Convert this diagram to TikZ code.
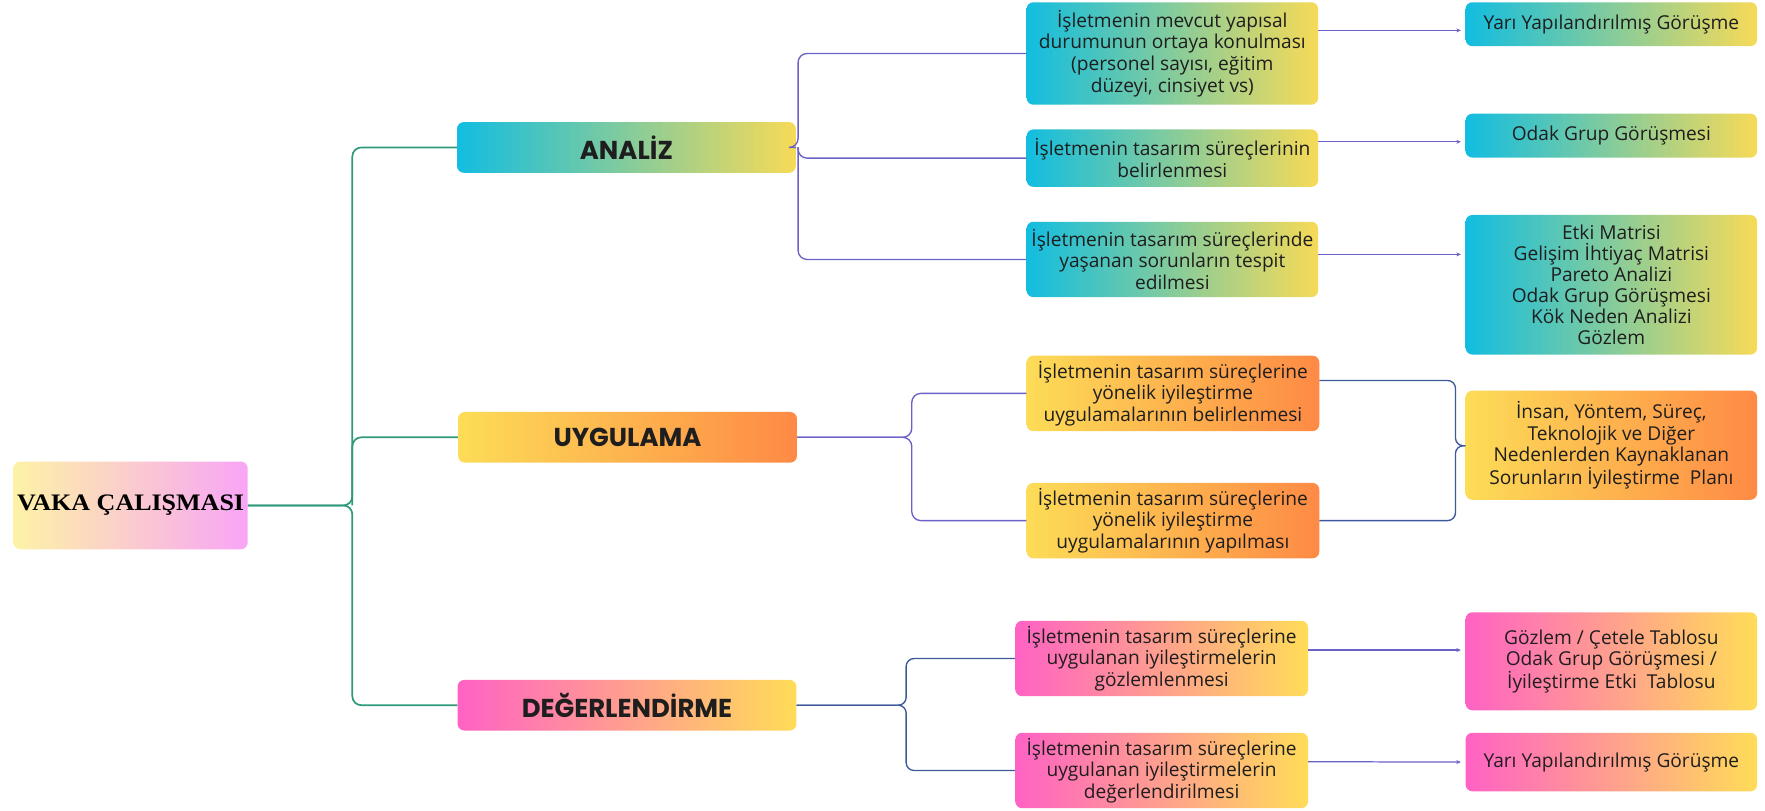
\documentclass[tikz,border=0pt]{standalone}
\usepackage{fontspec}
\setmainfont{Open Sans}
\newfontfamily\titlefont{Poppins}
\newfontfamily\serifb[FakeStretch=1.1]{Liberation Serif}
\usetikzlibrary{arrows.meta,calc}
\definecolor{cyanL}{HTML}{12BDE0}
\definecolor{yelR}{HTML}{F7DA57}
\definecolor{yelL}{HTML}{FDDC57}
\definecolor{orR}{HTML}{FE8A45}
\definecolor{pinkL}{HTML}{FF62C4}
\definecolor{yelP}{HTML}{FFDC58}
\definecolor{vakL}{HTML}{FDF2A6}
\definecolor{vakR}{HTML}{F8A5F6}
\definecolor{trunkc}{HTML}{2E9A7B}
\definecolor{purc}{HTML}{6A62C8}
\definecolor{bluc}{HTML}{3E5A9C}
\definecolor{txtc}{HTML}{1E1E1E}
\tikzset{
  box/.style={rounded corners=6pt, align=center, inner sep=0pt, text=txtc},
  fa/.style={font=\fontsize{17}{19.4}\selectfont},
  fb/.style={font=\fontsize{17}{19}\selectfont},
  ttl/.style={box, font=\titlefont\bfseries\fontsize{23}{26}\selectfont, minimum width=301pt, minimum height=45pt},
  cy/.style={box, left color=cyanL, right color=yelR},
  og/.style={box, left color=yelL, right color=orR},
  pk/.style={box, left color=pinkL, right color=yelP},
  trunk/.style={draw=trunkc, line width=1.5pt, rounded corners=8pt},
  purl/.style={draw=purc, line width=1.2pt, rounded corners=8pt},
  blul/.style={draw=bluc, line width=1.2pt, rounded corners=7pt},
  arr/.style={draw=purc, line width=1.1pt, -{Stealth[length=4pt,width=3.5pt]}, shorten >=4pt}
}
\begin{document}
\begin{tikzpicture}[x=1pt,y=-1pt]
\useasboundingbox[fill=white] (0,0) rectangle (1568,720);

% root
\node[box, left color=vakL, right color=vakR, minimum width=208pt, minimum height=78pt,
      font=\serifb\bfseries\fontsize{21}{24}\selectfont, text=black] (V) at (116,449) {VAKA ÇALIŞMASI};

% level 1
\node[ttl, cy] (AN) at (556.5,131) {ANALİZ};
\node[ttl, og] (UY) at (557.5,388.5) {UYGULAMA};
\node[ttl, pk] (DE) at (557,626.5) {DEĞERLENDİRME};

% analiz children
\node[cy, fa, minimum width=259pt, minimum height=91pt] (A1) at (1041.5,47.5)
  {İşletmenin mevcut yapısal\\durumunun ortaya konulması\\(personel sayısı, eğitim\\düzeyi, cinsiyet vs)};
\node[cy, fa, minimum width=259pt, minimum height=51pt] (A2) at (1041.5,140.5)
  {İşletmenin tasarım süreçlerinin\\belirlenmesi};
\node[cy, fa, minimum width=259pt, minimum height=67pt] (A3) at (1041.5,230.5)
  {İşletmenin tasarım süreçlerinde\\yaşanan sorunların tespit\\edilmesi};
\node[cy, fa, minimum width=259pt, minimum height=39pt] (R1) at (1431.5,21.5)
  {Yarı Yapılandırılmış Görüşme};
\node[cy, fa, minimum width=259pt, minimum height=39pt] (R2) at (1431.5,120.5)
  {Odak Grup Görüşmesi};
\node[cy, fa, font=\fontsize{17}{18.8}\selectfont, minimum width=259pt, minimum height=124pt] (R3) at (1431.5,253)
  {Etki Matrisi\\Gelişim İhtiyaç Matrisi\\Pareto Analizi\\Odak Grup Görüşmesi\\Kök Neden Analizi\\Gözlem};

% uygulama children
\node[og, fb, minimum width=260pt, minimum height=67pt] (U1) at (1042,349.5)
  {İşletmenin tasarım süreçlerine\\yönelik iyileştirme\\uygulamalarının belirlenmesi};
\node[og, fb, minimum width=260pt, minimum height=67pt] (U2) at (1042,462.5)
  {İşletmenin tasarım süreçlerine\\yönelik iyileştirme\\uygulamalarının yapılması};
\node[og, fb, minimum width=259pt, minimum height=97pt] (IP) at (1431.5,395.5)
  {İnsan, Yöntem, Süreç,\\Teknolojik ve Diğer\\Nedenlerden Kaynaklanan\\Sorunların İyileştirme~~Planı};

% degerlendirme children
\node[pk, fb, minimum width=260pt, minimum height=67pt] (D1) at (1032,585)
  {İşletmenin tasarım süreçlerine\\uygulanan iyileştirmelerin\\gözlemlenmesi};
\node[pk, fb, minimum width=260pt, minimum height=67pt] (D2) at (1032,684.5)
  {İşletmenin tasarım süreçlerine\\uygulanan iyileştirmelerin\\değerlendirilmesi};
\node[pk, fb, minimum width=259pt, minimum height=87pt] (E1) at (1431.5,587.5)
  {Gözlem / Çetele Tablosu\\Odak Grup Görüşmesi /\\İyileştirme Etki~~Tablosu};
\node[pk, fb, minimum width=259pt, minimum height=52pt] (E2) at (1431.5,677)
  {Yarı Yapılandırılmış Görüşme};

% trunk
\coordinate (t) at (313,449);
\draw[trunk] (V.east) -- (t) |- (AN.west);
\draw[trunk] (V.east) -- (t) |- (DE.west);
\draw[trunk] (t) |- (UY.west);

% analiz bracket
\coordinate (ab) at (709,131);
\draw[purl] (AN.east) -- (ab) |- (A1.west);
\draw[purl] (ab) |- (A2.west);
\draw[purl] (ab) |- (A3.west);

% uygulama brace (left)
\coordinate (ub) at (810,388.5);
\draw[purl] (UY.east) -- (ub) |- (U1.west);
\draw[purl] (UY.east) -- (ub) |- (U2.west);

% uygulama brace (right)
\coordinate (rb) at (1293,396);
\draw[blul] ([yshift=11.5pt]U1.east) -| (rb) -- (IP.west |- rb);
\draw[blul] (U2.east) -| (rb) -- (IP.west |- rb);

% degerlendirme brace
\coordinate (db) at (805,626.5);
\draw[blul] (DE.east) -- (db) |- (D1.west);
\draw[blul] (DE.east) -- (db) |- (D2.west);

% arrows
\draw[arr] ([yshift=20.5pt]A1.east) -- ([yshift=-5.5pt]R1.west);
\draw[arr] ([yshift=14.5pt]A2.east) -- ([yshift=-5.5pt]R2.west);
\draw[arr] ([yshift=4.5pt]A3.east) -- ([yshift=27pt]R3.west);
\draw[arr] ([yshift=7.5pt]D1.east) -- ([yshift=10pt]E1.west);
\draw[arr] ([yshift=7.8pt]D2.east) -- (E2.west);
\end{tikzpicture}
\end{document}
